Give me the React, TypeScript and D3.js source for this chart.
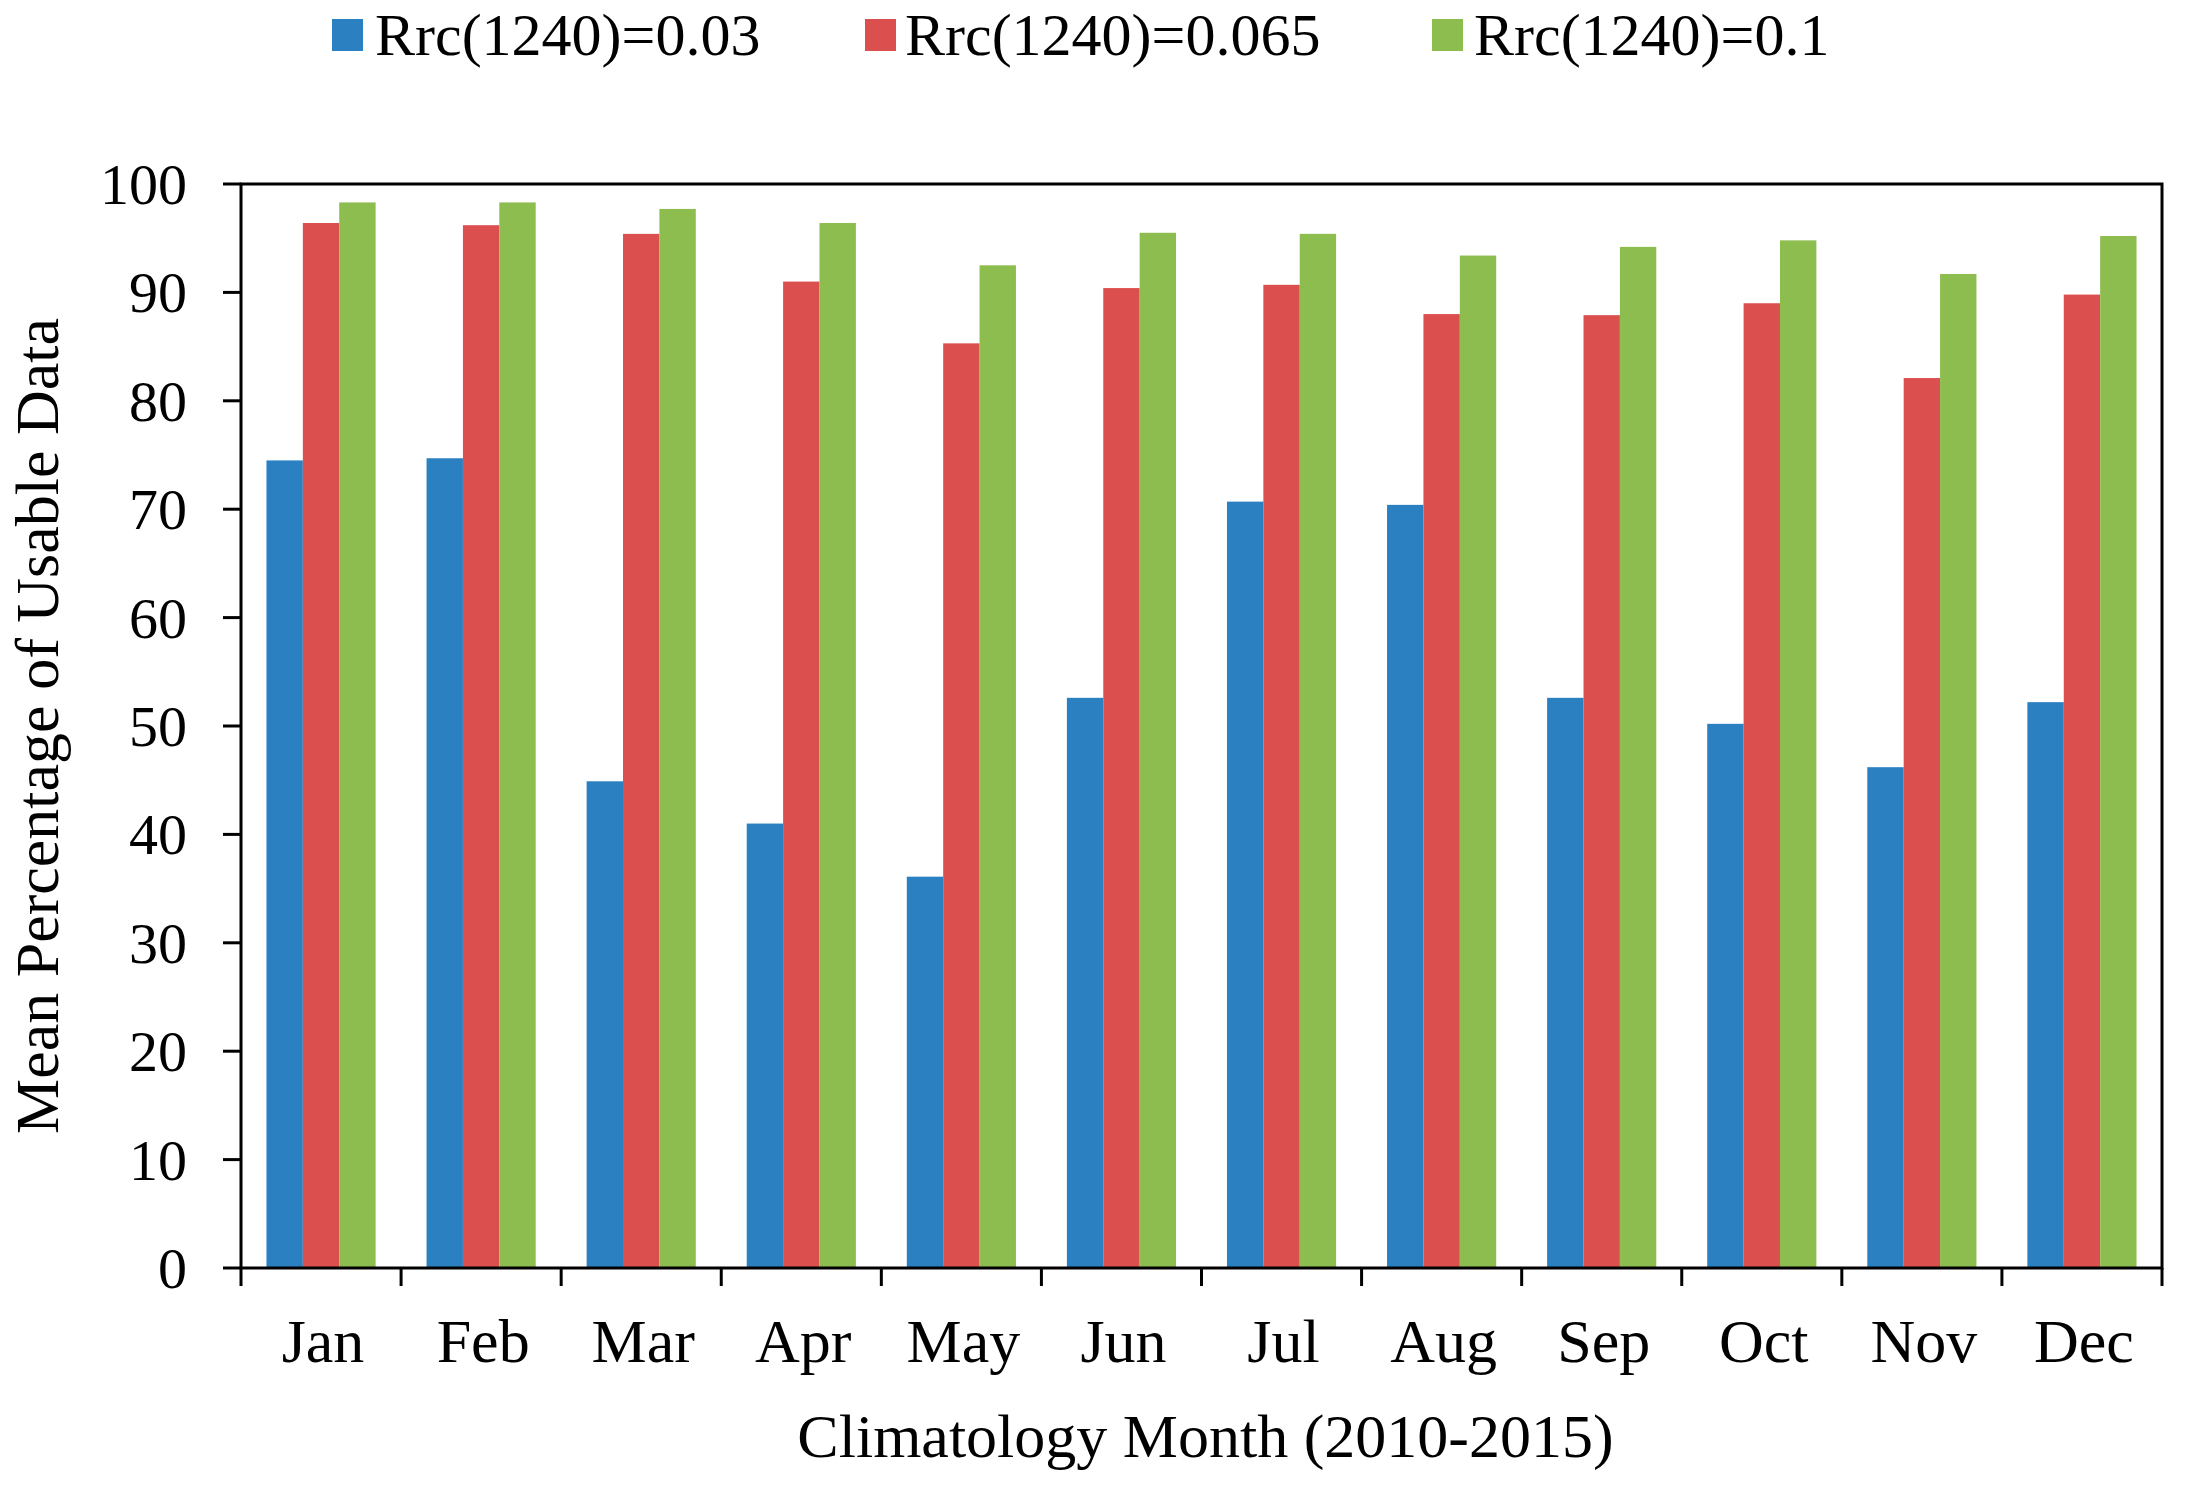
import React from "react";
import * as d3 from "d3";

const months = ["Jan", "Feb", "Mar", "Apr", "May", "Jun", "Jul", "Aug", "Sep", "Oct", "Nov", "Dec"];
const seriesNames = ["Rrc(1240)=0.03", "Rrc(1240)=0.065", "Rrc(1240)=0.1"];
const rrc003 = [74.5, 74.7, 44.9, 41.0, 36.1, 52.6, 70.7, 70.4, 52.6, 50.2, 46.2, 52.2];
const rrc0065 = [96.4, 96.2, 95.4, 91.0, 85.3, 90.4, 90.7, 88.0, 87.9, 89.0, 82.1, 89.8];
const rrc01 = [98.3, 98.3, 97.7, 96.4, 92.5, 95.5, 95.4, 93.4, 94.2, 94.8, 91.7, 95.2];
const yTicks = [0, 10, 20, 30, 40, 50, 60, 70, 80, 90, 100];
const colors = ["#2A80C0", "#DC4F4F", "#8DBC4F"];

const W = 2185;
const H = 1489;
const L = 241, R = 2162, T = 184, B = 1268;
const FONT = "'Liberation Serif', 'Times New Roman', serif";

export default function App() {
  const allSeries = [rrc003, rrc0065, rrc01];
  const x0 = d3.scaleBand<string>().domain(months).range([L, R]).padding(0);
  const x1 = d3
    .scaleBand<string>()
    .domain(seriesNames)
    .range([0, x0.bandwidth()])
    .paddingInner(0)
    .paddingOuter(0.7);
  const y = d3.scaleLinear().domain([0, 100]).range([B, T]);

  const legendPos = [
    { sq: 332, tx: 375 },
    { sq: 865, tx: 905 },
    { sq: 1432, tx: 1474 },
  ];

  const boundaries = months.map((m) => x0(m) as number).concat([R]);

  return (
    <svg
      width={W}
      height={H}
      viewBox={`0 0 ${W} ${H}`}
      style={{ position: "absolute", left: 0, top: 0, background: "#fff" }}
      fontFamily={FONT}
    >
      <rect x={0} y={0} width={W} height={H} fill="#fff" />
      {/* legend */}
      {seriesNames.map((s, i) => (
        <g key={s}>
          <rect x={legendPos[i].sq} y={19} width={31} height={32} fill={colors[i]} />
          <text x={legendPos[i].tx} y={55} fontSize={60} fill="#000">
            {s}
          </text>
        </g>
      ))}
      {/* bars */}
      {months.map((m, mi) => (
        <g key={m} transform={`translate(${x0(m)},0)`}>
          {allSeries.map((vals, si) => (
            <rect
              key={si}
              x={x1(seriesNames[si]) as number}
              y={y(vals[mi])}
              width={x1.bandwidth()}
              height={B - y(vals[mi])}
              fill={colors[si]}
            />
          ))}
        </g>
      ))}
      {/* frame */}
      <rect x={L} y={T} width={R - L} height={B - T} fill="none" stroke="#000" strokeWidth={3} />
      {/* y ticks */}
      {yTicks.map((t) => (
        <g key={t}>
          <line x1={L - 18} x2={L} y1={y(t)} y2={y(t)} stroke="#000" strokeWidth={3} />
          <text x={187} y={y(t) + 20} fontSize={58} textAnchor="end" fill="#000">
            {t}
          </text>
        </g>
      ))}
      {/* x ticks */}
      {boundaries.map((bx, i) => (
        <line key={i} x1={bx} x2={bx} y1={B} y2={B + 18} stroke="#000" strokeWidth={3} />
      ))}
      {months.map((m) => (
        <text
          key={m}
          x={(x0(m) as number) + x0.bandwidth() / 2 + 2}
          y={1362}
          fontSize={62}
          textAnchor="middle"
          fill="#000"
        >
          {m}
        </text>
      ))}
      {/* axis titles */}
      <text x={(L + R) / 2 + 4} y={1457} fontSize={62} textAnchor="middle" fill="#000">
        Climatology Month (2010-2015)
      </text>
      <text
        transform={`translate(58,${(T + B) / 2}) rotate(-90)`}
        fontSize={62}
        textAnchor="middle"
        fill="#000"
      >
        Mean Percentage of Usable Data
      </text>
    </svg>
  );
}
